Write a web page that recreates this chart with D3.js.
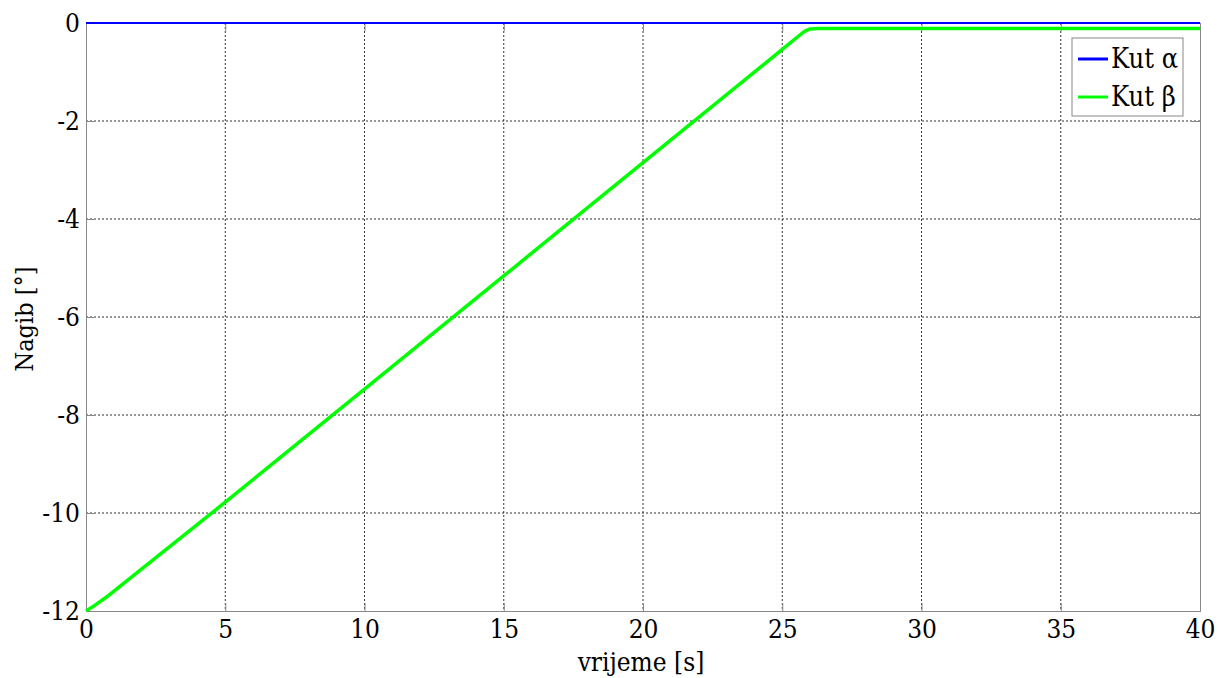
<!DOCTYPE html>
<html><head><meta charset="utf-8">
<script src="https://cdn.jsdelivr.net/npm/d3@7"></script>
<style>body{margin:0;background:#fff}svg{display:block}</style>
</head><body>
<svg id="c" width="1224" height="678"></svg>
<script>
const time = [0, 0.3, 0.7, 5, 10, 15, 20, 25, 25.6, 25.8, 26.0, 26.3, 40];
const kutBeta = [-12, -11.89, -11.73, -9.78, -7.47, -5.16, -2.85, -0.54, -0.26, -0.17, -0.12, -0.11, -0.11];
const timeAlpha = [0, 40];
const kutAlpha = [0, 0];
const xTicks = [0, 5, 10, 15, 20, 25, 30, 35, 40];
const yTicks = [0, -2, -4, -6, -8, -10, -12];
const seriesNames = ["Kut α", "Kut β"];

const FONT = "'DejaVu Serif Condensed', 'DejaVu Serif', serif";
const svg = d3.select("#c");
const L = 86, R = 1200, T = 23, B = 611;
const x = d3.scaleLinear().domain([0, 40]).range([L, R]);
const y = d3.scaleLinear().domain([-12, 0]).range([B, T]);

const grid = svg.append("g").attr("stroke", "#333").attr("stroke-width", 1).attr("stroke-dasharray", "2,2");
xTicks.slice(1, -1).forEach(t => grid.append("line").attr("x1", x(t)).attr("x2", x(t)).attr("y1", T).attr("y2", B));
yTicks.slice(1, -1).forEach(t => grid.append("line").attr("x1", L).attr("x2", R).attr("y1", y(t)).attr("y2", y(t)));

const ax = svg.append("g").attr("class", "axes");
ax.append("g").attr("transform", `translate(0,${B})`)
  .call(d3.axisBottom(x).tickValues(xTicks).tickSize(-8).tickPadding(9).tickFormat(d3.format("d")));
ax.append("g").attr("transform", `translate(0,${T})`)
  .call(d3.axisTop(x).tickValues(xTicks).tickSize(-8).tickFormat(""));
ax.append("g").attr("transform", `translate(${L},0)`)
  .call(d3.axisLeft(y).tickValues(yTicks).tickSize(-8).tickPadding(6).tickFormat(d => String(d)));
ax.append("g").attr("transform", `translate(${R},0)`)
  .call(d3.axisRight(y).tickValues(yTicks).tickSize(-8).tickFormat(""));
ax.selectAll(".domain").attr("stroke", "#888");
ax.selectAll(".tick line").attr("stroke", "#888");
ax.selectAll(".tick text").attr("font-size", 26).attr("font-family", FONT).style("font-stretch", "condensed").attr("fill", "#000");

const line = d3.line().x(d => x(d[0])).y(d => y(d[1]));
svg.append("path").datum(d3.zip(timeAlpha, kutAlpha)).attr("d", line)
  .attr("fill", "none").attr("stroke", "#0000ff").attr("stroke-width", 2);
svg.append("path").datum(d3.zip(time, kutBeta)).attr("d", line)
  .attr("fill", "none").attr("stroke", "#00ff00").attr("stroke-width", 3.5).attr("stroke-linejoin", "round");

svg.append("text").attr("x", 641).attr("y", 671).attr("text-anchor", "middle")
  .attr("font-size", 26).attr("font-family", FONT).style("font-stretch", "condensed").text("vrijeme [s]");
svg.append("text").attr("transform", `translate(33,${(T + B) / 2 + 2}) rotate(-90)`).attr("text-anchor", "middle")
  .attr("font-size", 25).attr("font-family", FONT).style("font-stretch", "condensed").text("Nagib [°]");

const lg = svg.append("g");
lg.append("rect").attr("x", 1072).attr("y", 38).attr("width", 111).attr("height", 78)
  .attr("fill", "#fff").attr("stroke", "#888").attr("stroke-width", 1);
const cols = ["#0000ff", "#00ff00"];
seriesNames.forEach((n, i) => {
  const yy = 59 + i * 38;
  lg.append("line").attr("x1", 1078).attr("x2", 1108).attr("y1", yy).attr("y2", yy)
    .attr("stroke", cols[i]).attr("stroke-width", 3);
  lg.append("text").attr("x", 1111).attr("y", yy + 9).attr("font-size", 27).attr("font-family", FONT).style("font-stretch", "condensed").text(n);
});
</script>
</body></html>
